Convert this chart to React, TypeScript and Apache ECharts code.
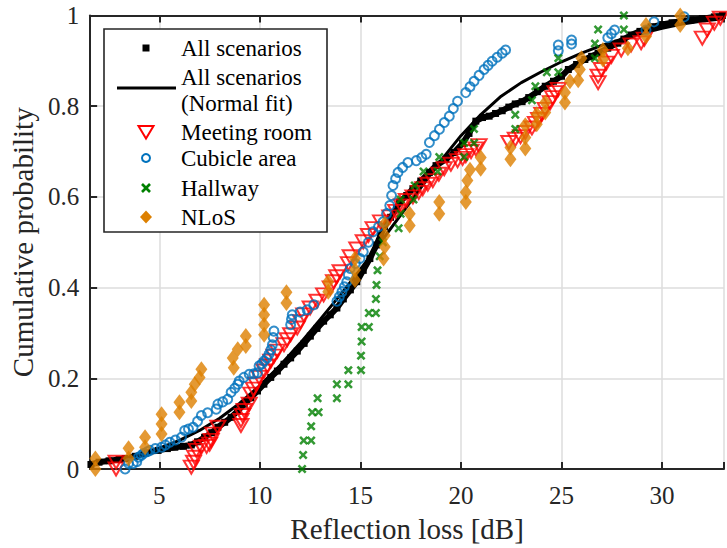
import React, { useEffect, useRef } from 'react';
import * as echarts from 'echarts';

const FONT = 'Liberation Serif';
const AXIS_COLOR = '#262626';

// ---- Data ----
const allScenarios: number[][] = [
  [1.6, 0.010], [2.0, 0.015], [2.5, 0.018], [3.0, 0.021], [3.3, 0.023], [3.8, 0.028], [4.3, 0.035],
  [4.94, 0.041], [5.4, 0.045], [5.77, 0.048], [6.2, 0.050], [6.59, 0.053], [6.9, 0.060], [7.25, 0.070],
  [7.6, 0.080], [7.91, 0.092], [8.25, 0.103], [8.57, 0.114], [8.9, 0.128], [9.22, 0.143], [9.55, 0.157],
  [9.88, 0.172], [10.2, 0.187], [10.54, 0.202], [10.87, 0.216], [11.2, 0.231], [11.53, 0.245],
  [11.86, 0.260], [12.2, 0.277], [12.51, 0.293], [12.84, 0.310], [13.17, 0.326], [13.5, 0.340],
  [13.83, 0.355], [14.15, 0.375], [14.5, 0.395], [14.82, 0.413], [15.14, 0.438], [15.47, 0.464],
  [15.8, 0.494], [16.0, 0.515], [16.2, 0.535], [16.5, 0.555], [16.79, 0.574], [16.95, 0.589],
  [17.3, 0.603], [17.61, 0.618], [18.0, 0.635], [18.43, 0.654], [18.76, 0.669], [19.25, 0.683],
  [19.65, 0.698], [20.08, 0.718], [20.4, 0.740], [20.74, 0.767], [21.07, 0.775], [21.4, 0.778],
  [21.72, 0.784], [22.05, 0.790], [22.38, 0.798], [22.7, 0.805], [23.04, 0.810], [23.37, 0.819],
  [23.8, 0.832], [24.19, 0.844], [24.6, 0.855], [25.0, 0.866], [25.34, 0.881], [25.75, 0.892],
  [26.16, 0.903], [26.5, 0.910], [26.82, 0.917], [27.3, 0.928], [27.8, 0.939], [28.1, 0.948],
  [28.46, 0.957], [28.9, 0.965], [29.45, 0.975], [30.0, 0.980], [30.5, 0.984], [31.0, 0.988],
  [31.43, 0.990], [32.0, 0.993], [32.6, 0.997], [33.0, 1.000],
];

const normalFit: number[][] = [
  [1.56, 0.013], [2, 0.016], [3, 0.023], [4, 0.033], [5, 0.046], [6, 0.063], [7, 0.085], [8, 0.112],
  [9, 0.145], [10, 0.184], [11, 0.228], [12, 0.277], [13, 0.330], [14, 0.384], [15, 0.440],
  [16, 0.500], [17, 0.560], [18, 0.620], [19, 0.680], [20, 0.735], [21, 0.782], [22, 0.822],
  [23, 0.852], [24, 0.876], [25, 0.898], [26, 0.917], [27, 0.934], [28, 0.948], [29, 0.961],
  [30, 0.972], [31, 0.981], [32, 0.988], [33.08, 0.993],
];

const meetingRoom: number[][] = [
  [2.85, 0.000], [2.85, 0.015], [6.59, 0.004], [6.70, 0.015], [6.76, 0.026], [6.84, 0.041],
  [7.09, 0.048], [7.35, 0.050], [7.50, 0.055], [7.58, 0.063], [7.66, 0.077], [7.91, 0.092],
  [9.06, 0.096], [9.06, 0.107], [9.14, 0.118], [9.22, 0.129], [9.47, 0.143], [9.55, 0.165],
  [9.68, 0.176], [9.80, 0.187], [9.96, 0.202], [10.21, 0.216], [10.38, 0.227], [10.54, 0.238],
  [10.70, 0.249], [10.87, 0.260], [11.20, 0.274], [11.36, 0.285], [11.53, 0.296], [11.86, 0.311],
  [12.02, 0.325], [12.18, 0.340], [12.50, 0.355], [12.84, 0.370], [13.17, 0.384], [13.50, 0.399],
  [13.66, 0.413], [13.82, 0.424], [13.99, 0.435], [14.40, 0.453], [14.49, 0.468], [14.82, 0.485],
  [15.14, 0.501], [15.40, 0.515], [15.63, 0.530], [16.00, 0.545], [16.46, 0.556], [16.75, 0.568],
  [17.03, 0.580], [17.28, 0.592], [17.61, 0.600], [17.90, 0.610], [18.10, 0.618], [18.35, 0.628],
  [18.60, 0.636], [18.90, 0.650], [19.17, 0.662], [19.50, 0.672], [19.83, 0.680], [20.08, 0.685],
  [20.24, 0.691], [20.50, 0.700], [20.74, 0.706], [20.90, 0.713], [22.38, 0.720], [22.70, 0.727],
  [22.96, 0.733], [23.20, 0.742], [23.53, 0.752], [23.70, 0.762], [23.86, 0.771], [24.02, 0.782],
  [24.19, 0.793], [24.44, 0.808], [24.56, 0.819], [24.68, 0.830], [24.84, 0.837], [26.82, 0.852],
  [26.82, 0.866], [26.98, 0.881], [27.23, 0.895], [27.48, 0.910], [27.97, 0.924], [28.46, 0.935],
  [28.96, 0.940], [29.12, 0.948], [32.00, 0.950], [32.25, 0.968], [32.60, 0.983], [32.90, 0.994],
];

const cubicleArea: number[][] = [
  [3.30, 0.000], [3.47, 0.012], [3.70, 0.012], [3.88, 0.016], [3.96, 0.026], [4.10, 0.030],
  [4.21, 0.034], [4.40, 0.038], [4.53, 0.041], [4.80, 0.045], [5.11, 0.048], [5.30, 0.053],
  [5.52, 0.059], [5.80, 0.064], [6.10, 0.070], [6.26, 0.085], [6.45, 0.088], [6.68, 0.092],
  [6.90, 0.105], [7.09, 0.118], [7.40, 0.124], [7.83, 0.132], [7.91, 0.143], [8.15, 0.148],
  [8.40, 0.154], [8.57, 0.169], [8.75, 0.178], [8.90, 0.187], [8.97, 0.194], [9.20, 0.202],
  [9.47, 0.209], [9.70, 0.210], [9.88, 0.212], [9.96, 0.227], [10.10, 0.232], [10.21, 0.238],
  [10.35, 0.245], [10.45, 0.253], [10.55, 0.263], [10.62, 0.274], [10.66, 0.290], [10.70, 0.304],
  [11.53, 0.318], [11.57, 0.330], [11.61, 0.340], [12.00, 0.346], [12.35, 0.351], [12.68, 0.362],
  [13.83, 0.370], [13.95, 0.380], [14.08, 0.391], [14.20, 0.402], [14.32, 0.413], [14.40, 0.428],
  [14.49, 0.442], [14.75, 0.453], [14.98, 0.464], [15.14, 0.479], [15.40, 0.500], [15.63, 0.523],
  [15.90, 0.534], [16.13, 0.545], [16.30, 0.563], [16.46, 0.581], [16.55, 0.603], [16.62, 0.625],
  [16.75, 0.640], [16.87, 0.654], [17.10, 0.665], [17.36, 0.676], [17.78, 0.680], [18.05, 0.687],
  [18.27, 0.694], [18.43, 0.720], [18.68, 0.735], [18.93, 0.749], [19.17, 0.764], [19.42, 0.778],
  [19.62, 0.795], [19.83, 0.811], [20.24, 0.830], [20.45, 0.843], [20.65, 0.855], [20.90, 0.868],
  [21.15, 0.881], [21.35, 0.890], [21.55, 0.899], [21.80, 0.908], [22.05, 0.917], [22.22, 0.924],
  [24.84, 0.922], [24.84, 0.935], [25.50, 0.937], [25.50, 0.946], [27.30, 0.951], [27.48, 0.960],
  [27.64, 0.968], [29.20, 0.968], [29.60, 0.986], [31.10, 0.997],
];

const hallway: number[][] = [
  [12.10, 0.000], [12.15, 0.031], [12.18, 0.063], [12.55, 0.063], [12.55, 0.094], [12.60, 0.125],
  [12.92, 0.125], [12.87, 0.156], [13.83, 0.156], [13.83, 0.187], [14.40, 0.187], [14.40, 0.218],
  [15.03, 0.218], [15.03, 0.250], [15.06, 0.281], [15.06, 0.313], [15.42, 0.313], [15.42, 0.344],
  [15.77, 0.344], [15.77, 0.375], [15.80, 0.406], [15.85, 0.438], [15.96, 0.469], [16.12, 0.500],
  [16.90, 0.531], [17.00, 0.563], [17.00, 0.594], [17.64, 0.594], [17.70, 0.625], [18.14, 0.656],
  [18.84, 0.656], [18.92, 0.688], [20.16, 0.688], [20.16, 0.719], [20.65, 0.719], [20.65, 0.750],
  [22.70, 0.750], [22.70, 0.781], [23.53, 0.813], [23.70, 0.844], [24.27, 0.875], [24.84, 0.875],
  [24.84, 0.906], [26.66, 0.906], [26.66, 0.938], [26.82, 0.969], [28.10, 0.969], [28.10, 1.000],
];

const nlos: number[][] = [
  [1.82, 0.000], [1.82, 0.023], [3.47, 0.023], [3.47, 0.046], [4.29, 0.048], [4.29, 0.070],
  [5.11, 0.077], [5.11, 0.099], [5.11, 0.121], [6.00, 0.125], [6.00, 0.147], [6.59, 0.150],
  [6.59, 0.169], [6.76, 0.187], [7.00, 0.202], [7.09, 0.220], [8.70, 0.223], [8.65, 0.245],
  [8.90, 0.264], [9.30, 0.271], [9.30, 0.293], [10.21, 0.296], [10.21, 0.318], [10.21, 0.340],
  [10.21, 0.362], [11.32, 0.366], [11.32, 0.390], [13.40, 0.391], [13.40, 0.413], [14.73, 0.417],
  [14.73, 0.439], [14.73, 0.464], [16.15, 0.464], [16.21, 0.490], [16.21, 0.515], [16.21, 0.541],
  [17.45, 0.537], [17.45, 0.563], [18.92, 0.563], [18.92, 0.589], [20.24, 0.589], [20.24, 0.610],
  [20.32, 0.636], [20.45, 0.660], [20.98, 0.662], [20.98, 0.687], [22.46, 0.683], [22.46, 0.709],
  [23.20, 0.707], [23.20, 0.731], [23.20, 0.758], [23.77, 0.760], [23.77, 0.782], [24.19, 0.786],
  [24.19, 0.808], [25.17, 0.808], [25.17, 0.830], [25.42, 0.855], [25.83, 0.857], [25.91, 0.881],
  [25.99, 0.906], [27.06, 0.903], [27.06, 0.924], [28.30, 0.928], [29.20, 0.954], [29.20, 0.979],
  [30.90, 0.979], [30.90, 1.000],
];

const legendLabels = ['All scenarios', 'All scenarios', '(Normal fit)', 'Meeting room', 'Cubicle area', 'Hallway', 'NLoS'];

const X_MIN = 1.56;
const X_MAX = 33.08;

const CROSS = 'path://M2,0 L5,3 L8,0 L10,2 L7,5 L10,8 L8,10 L5,7 L2,10 L0,8 L3,5 L0,2 Z';

function buildLegend() {
  const ys = [48, 77, 103, 132, 158, 188, 217];
  const els: any[] = [
    {
      type: 'rect',
      shape: { x: 104, y: 29, width: 223, height: 203 },
      style: { fill: '#ffffff', stroke: AXIS_COLOR, lineWidth: 1.6 },
      z: 100,
    },
  ];
  legendLabels.forEach((t, i) => {
    els.push({
      type: 'text',
      x: 181,
      y: ys[i],
      style: {
        text: t,
        fontFamily: FONT,
        fontSize: 23,
        fill: '#000',
        align: 'left',
        verticalAlign: 'middle',
      },
      z: 101,
    });
  });
  els.push({ type: 'rect', shape: { x: 142.5, y: 44.5, width: 7, height: 7 }, style: { fill: '#000' }, z: 101 });
  els.push({ type: 'line', shape: { x1: 117, y1: 88, x2: 176, y2: 88 }, style: { stroke: '#000', lineWidth: 3 }, z: 101 });
  els.push({
    type: 'polygon',
    shape: { points: [[138.5, 126], [153.5, 126], [146, 138.5]] },
    style: { fill: 'none', stroke: '#FF0000', lineWidth: 2 },
    z: 101,
  });
  els.push({ type: 'circle', shape: { cx: 146, cy: 158, r: 4 }, style: { fill: 'none', stroke: '#0072BD', lineWidth: 2 }, z: 101 });
  els.push({ type: 'line', shape: { x1: 142, y1: 184, x2: 150, y2: 192 }, style: { stroke: '#008000', lineWidth: 2.6 }, z: 101 });
  els.push({ type: 'line', shape: { x1: 150, y1: 184, x2: 142, y2: 192 }, style: { stroke: '#008000', lineWidth: 2.6 }, z: 101 });
  els.push({
    type: 'polygon',
    shape: { points: [[146, 210.5], [152, 217], [146, 223.5], [140, 217]] },
    style: { fill: '#DD8000' },
    z: 101,
  });
  return els;
}

export default function App() {
  const ref = useRef<HTMLDivElement>(null);
  useEffect(() => {
    if (!ref.current) return;
    const chart = echarts.init(ref.current, null, { renderer: 'svg' });
    const axisLine = { show: true, onZero: false, lineStyle: { color: AXIS_COLOR, width: 2 } };
    const axisTick = { show: true, inside: true, length: 7, lineStyle: { color: AXIS_COLOR, width: 2 } };
    const labelStyle = { fontFamily: FONT, fontSize: 25, color: AXIS_COLOR };
    const splitLine = { show: true, lineStyle: { color: '#dcdcdc', width: 1.5 } };
    const fmtX = (v: number) => (Math.abs(v % 5) < 1e-9 ? String(v) : '');
    chart.setOption({
      animation: false,
      backgroundColor: '#ffffff',
      textStyle: { fontFamily: FONT },
      grid: { left: 88, right: 0, top: 15.5, bottom: 76, containLabel: false },
      xAxis: [
        {
          type: 'value',
          position: 'bottom',
          min: X_MIN,
          max: X_MAX,
          minInterval: 5,
          maxInterval: 5,
          splitNumber: 6,
          name: 'Reflection loss [dB]',
          nameLocation: 'middle',
          nameGap: 45,
          nameTextStyle: { fontFamily: FONT, fontSize: 29, color: AXIS_COLOR },
          axisLine,
          axisTick,
          axisLabel: { ...labelStyle, margin: 14, formatter: fmtX },
          splitLine,
        },
        {
          type: 'value',
          position: 'top',
          min: X_MIN,
          max: X_MAX,
          minInterval: 5,
          maxInterval: 5,
          splitNumber: 6,
          axisLine,
          axisTick,
          axisLabel: { show: false },
          splitLine: { show: false },
        },
      ],
      yAxis: {
        type: 'value',
        min: 0,
        max: 1,
        interval: 0.2,
        name: 'Cumulative probability',
        nameLocation: 'middle',
        nameGap: 50,
        nameTextStyle: { fontFamily: FONT, fontSize: 29, color: AXIS_COLOR },
        axisLine,
        axisTick,
        axisLabel: { ...labelStyle, margin: 11 },
        splitLine,
      },
      graphic: buildLegend(),
      series: [
        {
          name: 'All scenarios',
          type: 'line',
          data: allScenarios,
          symbol: 'rect',
          symbolSize: 7,
          showSymbol: true,
          lineStyle: { color: '#000', width: 6 },
          itemStyle: { color: '#000' },
          z: 2,
          silent: true,
        },
        {
          name: 'All scenarios (Normal fit)',
          type: 'line',
          data: normalFit,
          smooth: false,
          symbol: 'none',
          showSymbol: false,
          lineStyle: { color: '#000', width: 3 },
          z: 3,
          silent: true,
        },
        {
          name: 'Meeting room',
          type: 'scatter',
          data: meetingRoom,
          symbol: 'triangle',
          symbolRotate: 180,
          symbolSize: [15, 13],
          itemStyle: { color: 'rgba(0,0,0,0)', borderColor: '#FF0000', borderWidth: 2 },
          z: 4,
          silent: true,
        },
        {
          name: 'Cubicle area',
          type: 'scatter',
          data: cubicleArea,
          symbol: 'circle',
          symbolSize: 9,
          itemStyle: { color: 'rgba(0,0,0,0)', borderColor: '#0072BD', borderWidth: 2 },
          z: 5,
          silent: true,
        },
        {
          name: 'Hallway',
          type: 'scatter',
          data: hallway,
          symbol: CROSS,
          symbolSize: 9,
          itemStyle: { color: '#008000' },
          z: 6,
          silent: true,
        },
        {
          name: 'NLoS',
          type: 'scatter',
          data: nlos,
          symbol: 'diamond',
          symbolSize: [12, 16],
          itemStyle: { color: '#DD8000' },
          z: 7,
          silent: true,
        },
      ],
    });
    return () => chart.dispose();
  }, []);
  return (
    <div
      ref={ref}
      style={{ position: 'fixed', left: 0, top: 0, width: 727, height: 548, background: '#fff' }}
    />
  );
}
